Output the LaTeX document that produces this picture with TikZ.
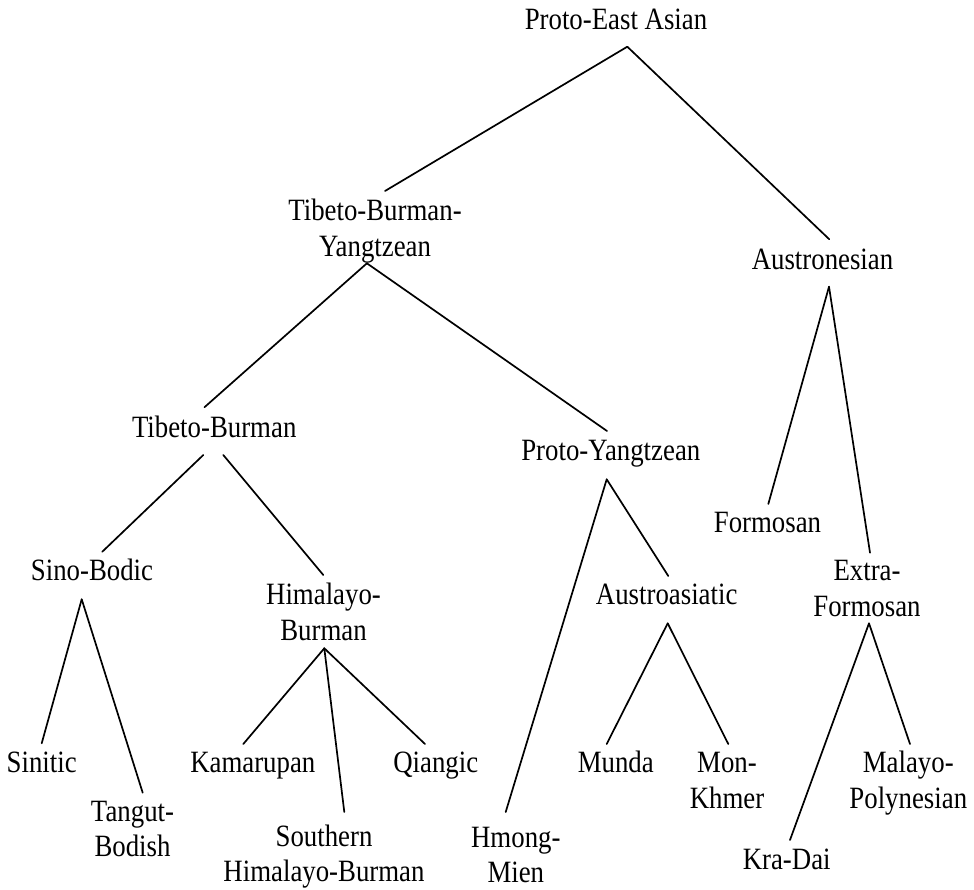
\documentclass[tikz,border=0pt]{standalone}
\usepackage{fontspec}
\setmainfont{Liberation Serif}[FakeStretch=0.865]
\begin{document}
\begin{tikzpicture}[x=1pt,y=-1pt,
  lang/.style={font=\fontsize{31}{35.5}\selectfont, inner sep=0pt, align=center, anchor=base},
  branch/.style={line width=1.7pt, line cap=round}]
\useasboundingbox (0,0) rectangle (974,889);
% nodes (anchor: baseline of the last line)
\node[lang] (pea) at (616,29.3) {Proto-East Asian};
\node[lang] (tby) at (375,256) {Tibeto-Burman-\\Yangtzean};
\node[lang] (aus) at (822.5,269.3) {Austronesian};
\node[lang] (tb) at (214.2,437.3) {Tibeto-Burman};
\node[lang] (py) at (610.8,460) {Proto-Yangtzean};
\node[lang] (for) at (767.5,532.7) {Formosan};
\node[lang] (ef) at (867,616) {Extra-\\Formosan};
\node[lang] (sb) at (92,580) {Sino-Bodic};
\node[lang] (hb) at (323.5,640) {Himalayo-\\Burman};
\node[lang] (aa) at (666.7,604) {Austroasiatic};
\node[lang] (sin) at (41.7,772.7) {Sinitic};
\node[lang] (kam) at (252.8,772.7) {Kamarupan};
\node[lang] (qia) at (435.8,772.7) {Qiangic};
\node[lang] (mun) at (615.8,772.7) {Munda};
\node[lang] (mk) at (727,808.3) {Mon-\\Khmer};
\node[lang] (mp) at (908.3,808.3) {Malayo-\\Polynesian};
\node[lang] (tang) at (132.5,856.7) {Tangut-\\Bodish};
\node[lang] (shb) at (324,881.5) {Southern\\Himalayo-Burman};
\node[lang] (hm) at (515.8,882.5) {Hmong-\\Mien};
\node[lang] (kd) at (786.7,869.3) {Kra-Dai};
% attachment points
\coordinate (pea-b) at (627.3,46.7);
\coordinate (tby-t) at (385,191);
\coordinate (tby-b) at (366.9,263.3);
\coordinate (aus-t) at (829.3,239.3);
\coordinate (aus-b) at (829,286.7);
\coordinate (tb-t) at (204.4,407.3);
\coordinate (tb-bl) at (203.3,455);
\coordinate (tb-br) at (223.3,455);
\coordinate (py-t) at (607,431);
\coordinate (py-b) at (606.7,479.3);
\coordinate (for-t) at (768.3,504);
\coordinate (ef-t) at (870,552.7);
\coordinate (ef-b) at (869,623.3);
\coordinate (sb-t) at (102.3,551.7);
\coordinate (sb-b) at (81.7,599.3);
\coordinate (hb-t) at (323.3,575);
\coordinate (hb-b) at (324.3,648.3);
\coordinate (aa-t) at (668.3,576);
\coordinate (aa-b) at (667.7,623.3);
\coordinate (sin-t) at (41.7,743.3);
\coordinate (tang-t) at (142.7,792.7);
\coordinate (kam-t) at (243.3,744);
\coordinate (shb-t) at (344.3,812);
\coordinate (qia-t) at (425,744);
\coordinate (mun-t) at (606.7,744);
\coordinate (mk-t) at (728.3,744);
\coordinate (hm-t) at (505.7,812);
\coordinate (kd-t) at (790,840);
\coordinate (mp-t) at (910,744);
% connectors
\draw[branch] (pea-b) -- (tby-t);
\draw[branch] (pea-b) -- (aus-t);
\draw[branch] (tby-b) -- (tb-t);
\draw[branch] (tby-b) -- (py-t);
\draw[branch] (aus-b) -- (for-t);
\draw[branch] (aus-b) -- (ef-t);
\draw[branch] (tb-bl) -- (sb-t);
\draw[branch] (tb-br) -- (hb-t);
\draw[branch] (py-b) -- (hm-t);
\draw[branch] (py-b) -- (aa-t);
\draw[branch] (sb-b) -- (sin-t);
\draw[branch] (sb-b) -- (tang-t);
\draw[branch] (hb-b) -- (kam-t);
\draw[branch] (hb-b) -- (shb-t);
\draw[branch] (hb-b) -- (qia-t);
\draw[branch] (aa-b) -- (mun-t);
\draw[branch] (aa-b) -- (mk-t);
\draw[branch] (ef-b) -- (kd-t);
\draw[branch] (ef-b) -- (mp-t);
\end{tikzpicture}
\end{document}
